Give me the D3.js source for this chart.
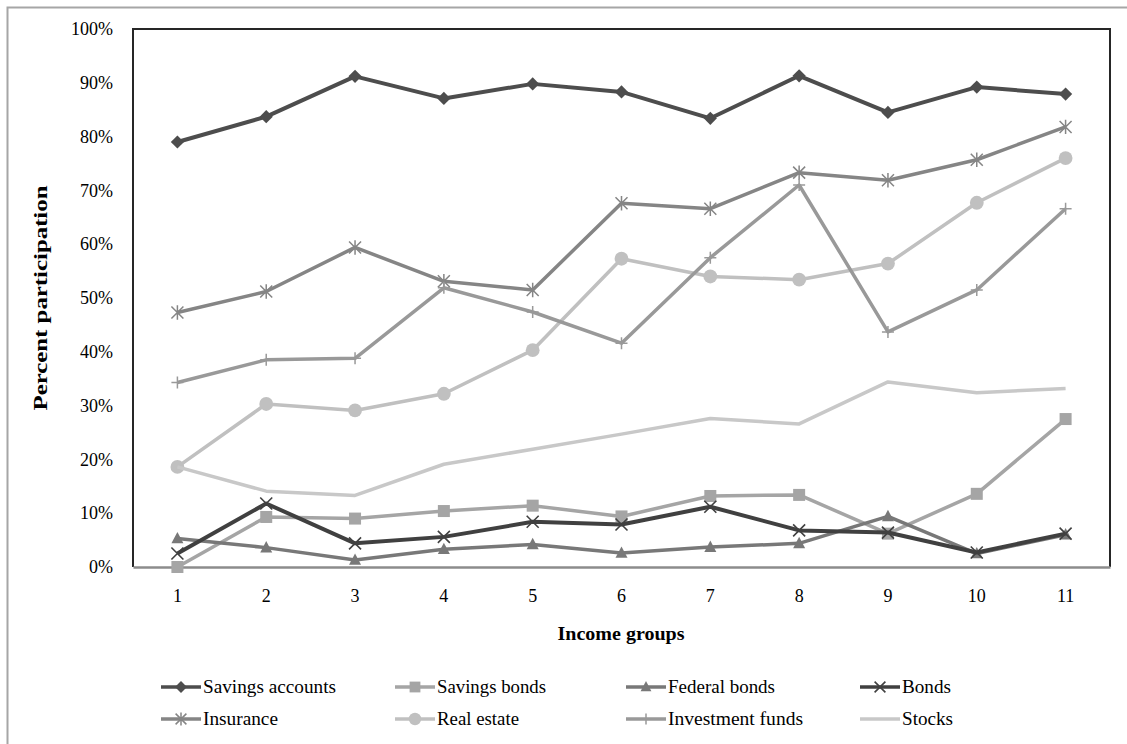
<!DOCTYPE html>
<html>
<head>
<meta charset="utf-8">
<script src="https://cdn.jsdelivr.net/npm/d3@7"></script>
<style>
  html, body { margin: 0; padding: 0; background: #fff; }
  svg { display: block; }
  text { font-family: "Liberation Serif", "Times New Roman", serif; fill: #000; }
</style>
</head>
<body>
<svg id="chart" width="1127" height="744"></svg>
<script>
// Income groups (x categories)
const categories = ["1", "2", "3", "4", "5", "6", "7", "8", "9", "10", "11"];
const yTicks = [0, 10, 20, 30, 40, 50, 60, 70, 80, 90, 100];

// Percent participation by asset type
const savingsAccounts = [79.0, 83.7, 91.2, 87.1, 89.8, 88.3, 83.4, 91.3, 84.5, 89.2, 87.9];
const savingsBonds    = [0.0, 9.3, 9.0, 10.4, 11.4, 9.4, 13.2, 13.4, 6.2, 13.6, 27.5];
const federalBonds    = [5.3, 3.6, 1.3, 3.3, 4.2, 2.6, 3.7, 4.4, 9.4, 2.5, 6.0];
const bonds           = [2.5, 11.8, 4.4, 5.6, 8.4, 7.9, 11.2, 6.8, 6.4, 2.7, 6.2];
const insurance       = [47.3, 51.2, 59.4, 53.1, 51.5, 67.6, 66.6, 73.3, 71.9, 75.7, 81.8];
const realEstate      = [18.6, 30.3, 29.1, 32.2, 40.3, 57.3, 54.0, 53.4, 56.4, 67.7, 76.0];
const investmentFunds = [34.3, 38.5, 38.8, 51.9, 47.4, 41.6, 57.5, 71.0, 43.7, 51.5, 66.6];
const stocks          = [18.6, 14.1, 13.3, 19.1, 21.9, 24.7, 27.6, 26.6, 34.4, 32.4, 33.2];

const seriesNames = ["Savings accounts", "Savings bonds", "Federal bonds", "Bonds",
                     "Insurance", "Real estate", "Investment funds", "Stocks"];
const seriesValues = [savingsAccounts, savingsBonds, federalBonds, bonds,
                      insurance, realEstate, investmentFunds, stocks];

// Styling per series
const styles = [
  { color: "#4d4d4d", marker: "diamond",  width: 4 },
  { color: "#a5a5a5", marker: "square",   width: 3.5 },
  { color: "#787878", marker: "triangle", width: 3.5 },
  { color: "#404040", marker: "x",        width: 4 },
  { color: "#858585", marker: "asterisk", width: 3.5 },
  { color: "#c0c0c0", marker: "circle",   width: 3.5 },
  { color: "#999999", marker: "plus",     width: 3.5 },
  { color: "#c8c8c8", marker: "none",     width: 3.5 }
];
const legendTextWidths = [133, 109, 107, 49, 75, 82, 135, 51];

const svg = d3.select("#chart");

// Outer chart border
svg.append("rect")
  .attr("x", 7.5).attr("y", 7.5)
  .attr("width", 1140).attr("height", 760)
  .attr("fill", "none").attr("stroke", "#a6a6a6").attr("stroke-width", 2);

const plot = { left: 133, right: 1110, top: 29, bottom: 567 };

const x = d3.scaleBand().domain(categories).range([plot.left, plot.right]).padding(0);
const xc = c => x(c) + x.bandwidth() / 2;
const y = d3.scaleLinear().domain([0, 100]).range([plot.bottom, plot.top]);

// Plot frame (top, right, left)
svg.append("path")
  .attr("d", `M${plot.left},${plot.bottom} V${plot.top} H${plot.right} V${plot.bottom}`)
  .attr("fill", "none").attr("stroke", "#262626").attr("stroke-width", 2);

// Y axis
const yAxis = svg.append("g")
  .attr("transform", `translate(${plot.left},0)`)
  .call(d3.axisLeft(y).tickValues(yTicks).tickSize(0).tickPadding(20)
        .tickFormat(d => d + "%"));
yAxis.select(".domain").remove();
yAxis.selectAll("text").style("font-family", "Liberation Serif").style("font-size", "18px");

// X axis
const xAxis = svg.append("g")
  .attr("transform", `translate(0,${plot.bottom})`)
  .call(d3.axisBottom(x).tickSize(0).tickPadding(22));
xAxis.select(".domain").attr("stroke", "#8c8c8c").attr("stroke-width", 2.5);
xAxis.selectAll("text").style("font-family", "Liberation Serif").style("font-size", "18px");

// Axis titles
svg.append("text")
  .attr("x", 621).attr("y", 640)
  .attr("text-anchor", "middle")
  .attr("font-weight", "bold").attr("font-size", 18)
  .attr("textLength", 127).attr("lengthAdjust", "spacingAndGlyphs")
  .text("Income groups");

svg.append("text")
  .attr("transform", "translate(47,298) rotate(-90)")
  .attr("text-anchor", "middle")
  .attr("font-weight", "bold").attr("font-size", 18)
  .attr("textLength", 225).attr("lengthAdjust", "spacingAndGlyphs")
  .text("Percent participation");

// Marker drawing
function drawMarker(g, type, color, s) {
  const r = 6 * s;
  switch (type) {
    case "diamond":
      g.append("path").attr("d", `M0,${-r * 1.1} L${r * 1.1},0 L0,${r * 1.1} L${-r * 1.1},0Z`).attr("fill", color);
      break;
    case "square":
      g.append("rect").attr("x", -r).attr("y", -r).attr("width", 2 * r).attr("height", 2 * r).attr("fill", color);
      break;
    case "triangle":
      g.append("path").attr("d", `M0,${-r * 1.1} L${r},${r * 0.8} L${-r},${r * 0.8}Z`).attr("fill", color);
      break;
    case "x":
      g.append("path").attr("d", `M${-r},${-r} L${r},${r} M${-r},${r} L${r},${-r}`)
        .attr("stroke", color).attr("stroke-width", 1.6).attr("fill", "none");
      break;
    case "asterisk":
      g.append("path").attr("d", `M${-r},${-r} L${r},${r} M${-r},${r} L${r},${-r} M0,${-r * 1.2} V${r * 1.2}`)
        .attr("stroke", color).attr("stroke-width", 1.5).attr("fill", "none");
      break;
    case "circle":
      g.append("circle").attr("r", r * 1.15).attr("fill", color);
      break;
    case "plus":
      g.append("path").attr("d", `M${-r},0 H${r} M0,${-r} V${r}`)
        .attr("stroke", color).attr("stroke-width", 1.5).attr("fill", "none");
      break;
  }
}

// Series lines and markers
const line = d3.line().x((d, i) => xc(categories[i])).y(d => y(d));
seriesValues.forEach((vals, si) => {
  const st = styles[si];
  const g = svg.append("g").attr("class", "series");
  g.append("path")
    .attr("d", line(vals))
    .attr("fill", "none")
    .attr("stroke", st.color)
    .attr("stroke-width", st.width)
    .attr("stroke-linejoin", "round");
  vals.forEach((v, i) => {
    const m = g.append("g").attr("transform", `translate(${xc(categories[i])},${y(v)})`);
    drawMarker(m, st.marker, st.color, 1);
  });
});

// Legend
const legendCols = [161, 395, 626, 860];
const legendRows = [687, 719];
seriesNames.forEach((name, i) => {
  const st = styles[i];
  const lx = legendCols[i % 4];
  const ly = legendRows[Math.floor(i / 4)];
  const g = svg.append("g").attr("transform", `translate(${lx},${ly})`);
  g.append("line").attr("x1", 0).attr("x2", 40).attr("y1", 0).attr("y2", 0)
    .attr("stroke", st.color).attr("stroke-width", 3.5);
  const m = g.append("g").attr("transform", "translate(20,0)");
  drawMarker(m, st.marker, st.color, 0.9);
  g.append("text")
    .attr("x", 42).attr("y", 0).attr("dy", "0.35em")
    .attr("font-size", 18)
    .attr("textLength", legendTextWidths[i]).attr("lengthAdjust", "spacingAndGlyphs")
    .text(name);
});
</script>
</body>
</html>
